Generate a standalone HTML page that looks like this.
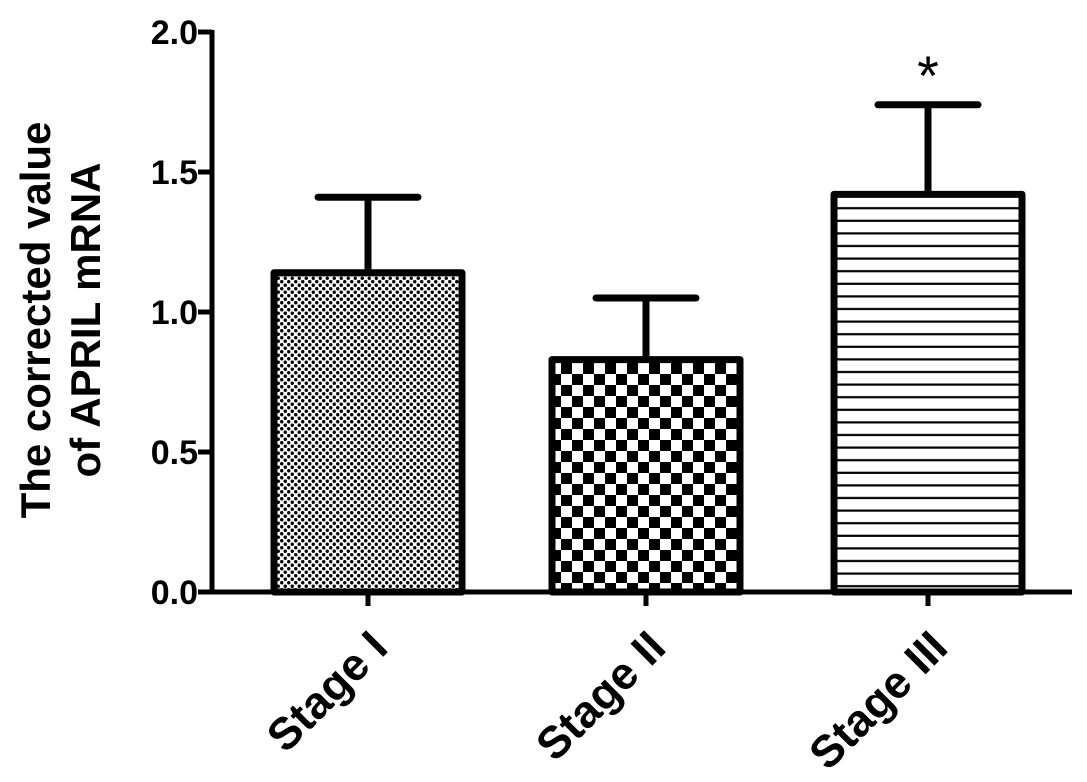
<!DOCTYPE html>
<html><head><meta charset="utf-8"><style>
body{margin:0;background:#fff;}
svg{display:block;font-family:"Liberation Sans",Arial,sans-serif;font-weight:bold;}
</style></head><body>
<svg id="chart" width="1087" height="782" viewBox="0 0 1087 782">
<defs>
<pattern id="p1" width="7" height="7" patternUnits="userSpaceOnUse"><rect width="7" height="7" fill="#fff"/><circle cx="1.75" cy="1.75" r="1.7" fill="#000"/><circle cx="5.25" cy="5.25" r="1.7" fill="#000"/></pattern>
<pattern id="p2" width="22" height="22" patternUnits="userSpaceOnUse"><rect width="22" height="22" fill="#fff"/><rect width="11" height="11" fill="#000"/><rect x="11" y="11" width="11" height="11" fill="#000"/></pattern>
<pattern id="p3" width="12.6" height="12.6" patternUnits="userSpaceOnUse"><rect width="12.6" height="12.6" fill="#fff"/><rect y="5.5" width="12.6" height="2.2" fill="#000"/></pattern>
</defs>
<g id="plot"></g>
</svg>
<script>
const categories=["Stage I","Stage II","Stage III"];
const values=[1.14,0.83,1.42];
const errors=[0.27,0.22,0.32];
const yTicks=[0,0.5,1.0,1.5,2.0];
const yTickLabels=["0.0","0.5","1.0","1.5","2.0"];
const sig=["","","*"];
const fills=["url(#p1)","url(#p2)","url(#p3)"];
const NS="http://www.w3.org/2000/svg";
const g=document.getElementById('plot');
const x0=212,y0=592,yTop=32,xEnd=1072;
const y=v=>y0-(v/2)*(y0-yTop);
const centers=[368,646,928];const bw=188;
const xc=i=>centers[i];
function el(t,a,txt){const e=document.createElementNS(NS,t);for(const k in a)e.setAttribute(k,a[k]);if(txt!==undefined)e.textContent=txt;g.appendChild(e);return e;}
categories.forEach((c,i)=>{
 const top=y(values[i]),et=y(values[i]+errors[i]);
 let e=el('line',{x1:xc(i),x2:xc(i),y1:top,y2:et,stroke:'#000','stroke-width':7});
 
 
 e=el('line',{x1:xc(i)-50,x2:xc(i)+50,y1:et,y2:et,stroke:'#000','stroke-width':7,'stroke-linecap':'round'});
 
 
 e=el('rect',{x:xc(i)-bw/2,y:top,width:bw,height:y0-top,fill:fills[i],stroke:'#000','stroke-width':7,'stroke-linejoin':'round'});
 
 
 if(sig[i]){e=el('text',{x:xc(i),y:et-10,'text-anchor':'middle','font-size':56,'font-weight':'normal'},sig[i]);
 
 }
 e=el('line',{x1:xc(i),x2:xc(i),y1:y0,y2:y0+14,stroke:'#000','stroke-width':5});
 
 
 e=el('text',{x:0,y:0,'text-anchor':'end','font-size':45,transform:`translate(${xc(i)+22},${y0+58}) rotate(-45)`},c);
 
 
});
yTicks.forEach((t,i)=>{
 let e=el('line',{x1:x0-14,x2:x0,y1:y(t),y2:y(t),stroke:'#000','stroke-width':5});
 
 
 e=el('text',{x:x0-14,y:y(t)+12,'text-anchor':'end','font-size':34},yTickLabels[i]);
 
 
});
let a=el('line',{x1:x0,x2:x0,y1:yTop-2,y2:y0+2,stroke:'#000','stroke-width':5});


a=el('line',{x1:x0-2,x2:xEnd,y1:y0,y2:y0,stroke:'#000','stroke-width':5});


a=el('text',{x:0,y:0,'text-anchor':'middle','font-size':42,transform:'translate(50,320) rotate(-90)'},'The corrected value');


a=el('text',{x:0,y:0,'text-anchor':'middle','font-size':42,transform:'translate(100,320) rotate(-90)'},'of APRIL mRNA');


</script>
</body></html>
